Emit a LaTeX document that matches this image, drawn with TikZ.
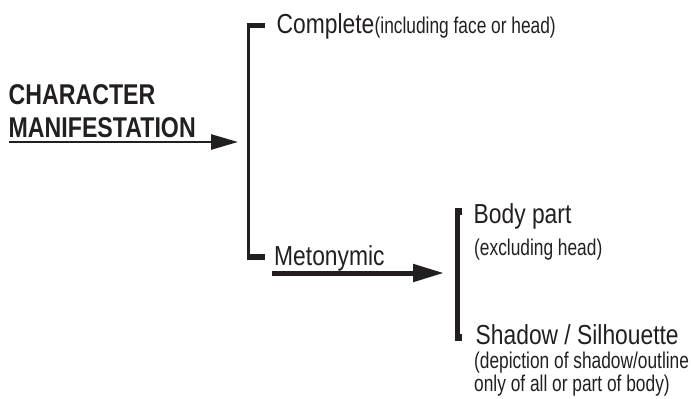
\documentclass[tikz,border=0pt]{standalone}
\usepackage{fontspec}
\setmainfont{Liberation Sans}
\newfontfamily\boldcond[FakeStretch=0.81]{Liberation Sans Bold}
\newfontfamily\maincond[FakeStretch=0.83]{Liberation Sans}
\newfontfamily\smallcond[FakeStretch=0.76]{Liberation Sans}
\usetikzlibrary{arrows.meta}
\definecolor{ink}{HTML}{231F20}
\tikzset{
  lbl/.style={anchor=base west, inner sep=0pt, text=ink},
  head/.style={lbl, font=\boldcond\fontsize{28.6}{30}\selectfont},
  main/.style={lbl, font=\maincond\fontsize{27.5}{30}\selectfont},
  small/.style={lbl, font=\smallcond\fontsize{22.8}{26}\selectfont},
  arr/.style={draw=ink, line width=#1},
  brk/.style={fill=ink, draw=none}
}
\begin{document}
\begin{tikzpicture}[x=1pt,y=-1pt]
\useasboundingbox (0,0) rectangle (691,399);
% heading
\node[head] (h1) at (8.5,104) {CHARACTER};
\node[head] (h2) at (8.5,137.5) {MANIFESTATION};
\coordinate (a1s) at (9,142);
\coordinate (a1e) at (238,142);
\draw[arr=2.6, -{Triangle[length=27pt,width=15pt]}] (a1s) -- (a1e);
% first bracket
\fill[brk] (247,23) rectangle (250,260);
\fill[brk] (247,23) rectangle (265,28);
\fill[brk] (247,254) rectangle (265,260);
\node[main] (comp) at (276.5,33) {Complete};
\node[small] (compx) at (374.5,33) {(including face or head)};
\node[main] (meto) at (274,265) {Metonymic};
\coordinate (a2s) at (272,273);
\coordinate (a2e) at (444,273);
\draw[arr=5, -{Triangle[length=31pt,width=17pt]}] (a2s) -- (a2e);
% second bracket
\fill[brk] (455,208) rectangle (459.5,341);
\fill[brk] (455,208) rectangle (462,215);
\fill[brk] (455,334) rectangle (462,341);
\node[main] (body) at (473.5,223) {Body part};
\node[small] (bodyx) at (474,255) {(excluding head)};
\node[main] (shad) at (475.5,344) {Shadow / Silhouette};
\node[small] (shadx1) at (474,368) {(depiction of shadow/outline};
\node[small] (shadx2) at (474,391) {only of all or part of body)};
\end{tikzpicture}
\end{document}
